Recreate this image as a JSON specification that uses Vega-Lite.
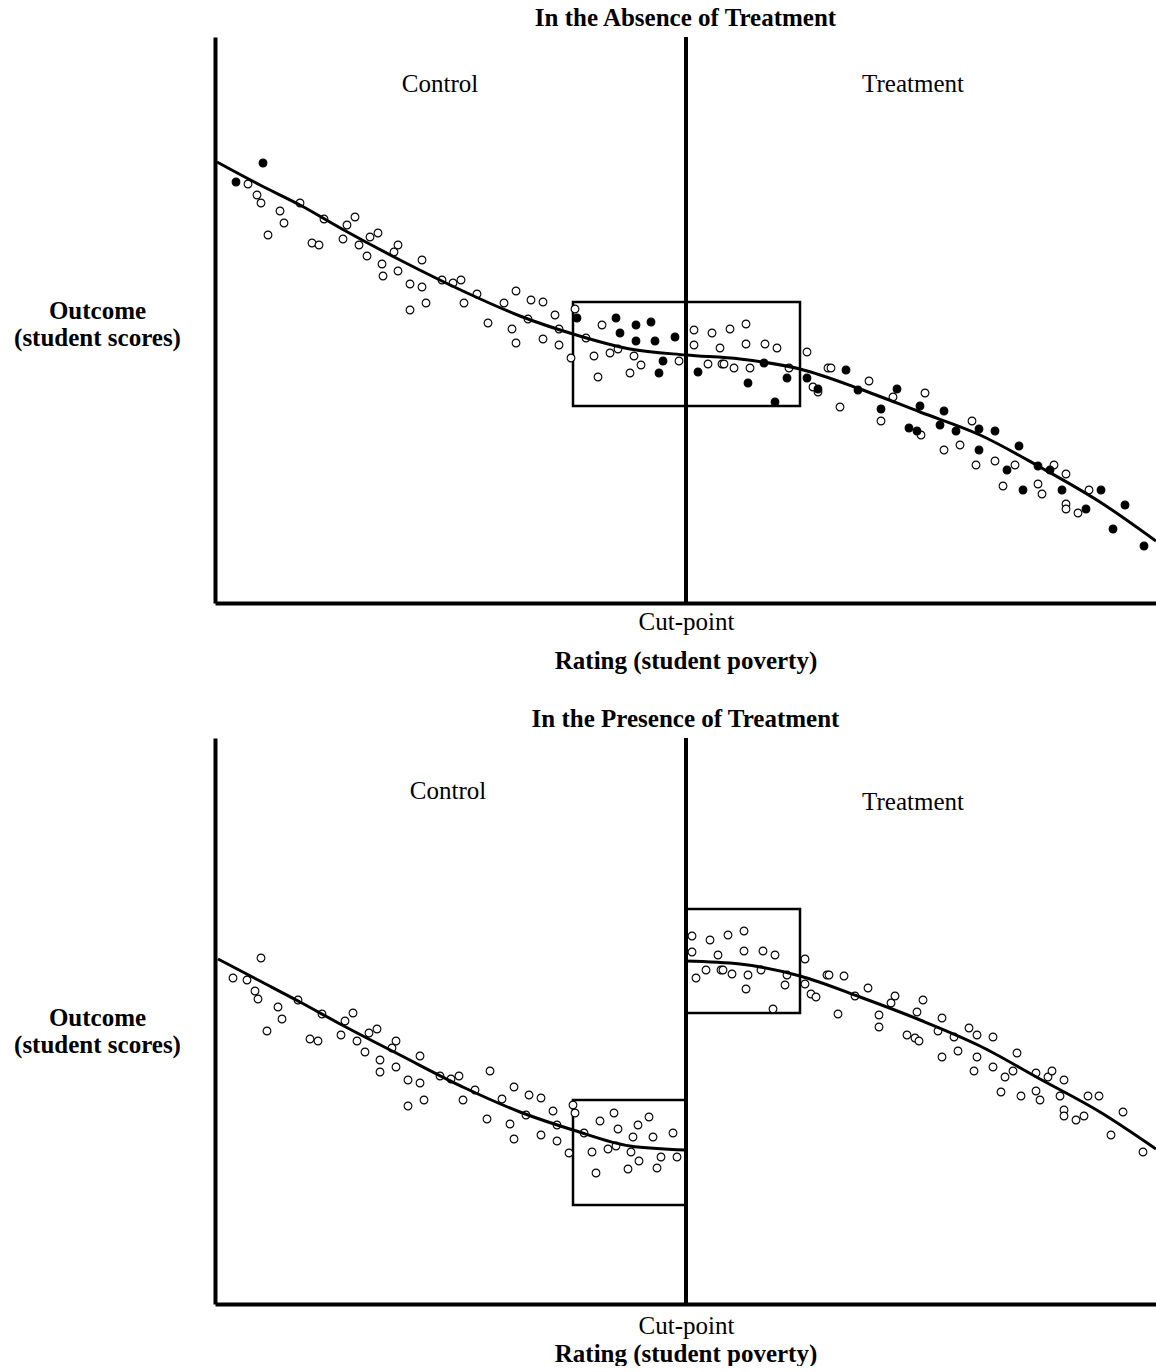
{
"$schema":"https://vega.github.io/schema/vega-lite/v6.json",
"background":"white",
"padding":{"left":13,"top":6,"right":0,"bottom":0},
"spacing":34,
"config":{"view":{"stroke":null},"font":"Liberation Serif",
"title":{"font":"Liberation Serif","fontSize":25,"fontWeight":"bold","color":"black","anchor":"middle","offset":4},
"axisX":{"domainWidth":4,"domainColor":"black","ticks":false,"grid":false,"labelFont":"Liberation Serif","labelFontSize":25,"labelColor":"black","labelPadding":6,"labelFlush":false,"titleFont":"Liberation Serif","titleFontSize":25,"titleFontWeight":"bold","titleColor":"black","titlePadding":14},
"axisY":{"domainWidth":4,"domainColor":"black","ticks":false,"labels":false,"grid":false,"titleAngle":0,"titleAlign":"center","titleBaseline":"middle","titleX":-118,"titleFont":"Liberation Serif","titleFontSize":25,"titleFontWeight":"bold","titleColor":"black","titleLineHeight":27}},
"datasets":{
"cut":[{"rating":47.1}],
"top_box":[{"x1":35.8,"x2":58.5,"y1":30.1,"y2":19.7}],
"bot_box":[{"x1":35.8,"x2":47.1,"y1":20.4,"y2":9.9},{"x1":47.1,"x2":58.5,"y1":39.5,"y2":29.1}],
"top_lab":[{"rating":22.5,"score":51.9,"label":"Control"},{"rating":69.8,"score":51.9,"label":"Treatment"}],
"bot_lab":[{"rating":23.3,"score":51.3,"label":"Control"},{"rating":69.8,"score":50.2,"label":"Treatment"}],
"top_curve":[{"rating":0.2,"score":44.1},{"rating":4.5,"score":41.8},{"rating":8.5,"score":39.8},{"rating":12.7,"score":37.4},{"rating":18.5,"score":34.3},{"rating":25,"score":31.1},{"rating":30.5,"score":28.7},{"rating":35.8,"score":26.9},{"rating":41.5,"score":25.4},{"rating":47.1,"score":24.8},{"rating":52.5,"score":24.4},{"rating":58.5,"score":23.4},{"rating":64.5,"score":21.4},{"rating":70.5,"score":19.1},{"rating":76.5,"score":16.8},{"rating":82.5,"score":13.6},{"rating":88.5,"score":10.1},{"rating":94.1,"score":6.2}],
"bot_curve":[{"seg":"c","rating":0.3,"score":34.5},{"seg":"c","rating":4.5,"score":32.3},{"seg":"c","rating":8.5,"score":30.2},{"seg":"c","rating":12.7,"score":27.9},{"seg":"c","rating":18.5,"score":24.9},{"seg":"c","rating":25,"score":21.6},{"seg":"c","rating":30.5,"score":19.2},{"seg":"c","rating":35.8,"score":17.4},{"seg":"c","rating":41.5,"score":15.8},{"seg":"c","rating":47.1,"score":15.4},
{"seg":"t","rating":47.1,"score":34.3},{"seg":"t","rating":52.5,"score":34.0},{"seg":"t","rating":58.5,"score":32.8},{"seg":"t","rating":64.5,"score":30.7},{"seg":"t","rating":70.5,"score":28.4},{"seg":"t","rating":76.5,"score":25.8},{"seg":"t","rating":82.5,"score":22.5},{"seg":"t","rating":88.5,"score":19.2},{"seg":"t","rating":94.1,"score":15.5}],
"top_pts":[
{"rating":3.3,"score":41.9,"kind":"open"},{"rating":4.2,"score":40.8,"kind":"open"},{"rating":4.6,"score":40.0,"kind":"open"},{"rating":5.3,"score":36.8,"kind":"open"},{"rating":6.5,"score":39.2,"kind":"open"},{"rating":6.9,"score":38.0,"kind":"open"},{"rating":8.5,"score":40.0,"kind":"open"},{"rating":9.7,"score":36.0,"kind":"open"},{"rating":10.4,"score":35.8,"kind":"open"},{"rating":10.9,"score":38.4,"kind":"open"},{"rating":12.8,"score":36.4,"kind":"open"},{"rating":13.2,"score":37.8,"kind":"open"},{"rating":14.0,"score":38.6,"kind":"open"},{"rating":14.4,"score":35.8,"kind":"open"},{"rating":15.2,"score":34.7,"kind":"open"},{"rating":15.5,"score":36.6,"kind":"open"},{"rating":16.3,"score":37.0,"kind":"open"},{"rating":16.7,"score":33.9,"kind":"open"},{"rating":16.8,"score":32.7,"kind":"open"},{"rating":17.9,"score":35.1,"kind":"open"},{"rating":18.3,"score":35.8,"kind":"open"},{"rating":18.3,"score":33.2,"kind":"open"},{"rating":19.5,"score":31.9,"kind":"open"},{"rating":19.5,"score":29.3,"kind":"open"},{"rating":20.7,"score":34.3,"kind":"open"},{"rating":20.7,"score":31.6,"kind":"open"},{"rating":21.1,"score":30.0,"kind":"open"},{"rating":22.7,"score":32.3,"kind":"open"},{"rating":23.8,"score":32.0,"kind":"open"},{"rating":24.6,"score":32.3,"kind":"open"},{"rating":24.9,"score":30.0,"kind":"open"},
{"rating":26.2,"score":30.9,"kind":"open"},{"rating":27.3,"score":28.0,"kind":"open"},{"rating":28.9,"score":30.0,"kind":"open"},{"rating":29.7,"score":27.4,"kind":"open"},{"rating":30.1,"score":31.2,"kind":"open"},{"rating":30.1,"score":26.0,"kind":"open"},{"rating":31.3,"score":28.4,"kind":"open"},{"rating":31.6,"score":30.3,"kind":"open"},{"rating":32.8,"score":30.1,"kind":"open"},{"rating":32.8,"score":26.4,"kind":"open"},{"rating":34.0,"score":28.8,"kind":"open"},{"rating":34.4,"score":27.4,"kind":"open"},{"rating":34.4,"score":25.8,"kind":"open"},{"rating":35.6,"score":24.5,"kind":"open"},{"rating":36.0,"score":29.4,"kind":"open"},{"rating":37.1,"score":26.5,"kind":"open"},{"rating":37.9,"score":24.7,"kind":"open"},{"rating":38.3,"score":22.6,"kind":"open"},{"rating":38.7,"score":27.8,"kind":"open"},{"rating":39.5,"score":25.0,"kind":"open"},{"rating":40.3,"score":25.4,"kind":"open"},{"rating":41.5,"score":23.0,"kind":"open"},{"rating":41.9,"score":24.7,"kind":"open"},{"rating":42.6,"score":23.8,"kind":"open"},{"rating":46.4,"score":24.2,"kind":"open"},{"rating":47.9,"score":27.3,"kind":"open"},{"rating":47.9,"score":25.8,"kind":"open"},
{"rating":49.3,"score":23.9,"kind":"open"},{"rating":49.7,"score":27.0,"kind":"open"},{"rating":50.5,"score":25.5,"kind":"open"},{"rating":50.7,"score":23.9,"kind":"open"},{"rating":50.9,"score":23.9,"kind":"open"},{"rating":51.5,"score":27.4,"kind":"open"},{"rating":51.9,"score":23.5,"kind":"open"},{"rating":53.1,"score":27.9,"kind":"open"},{"rating":53.1,"score":25.9,"kind":"open"},{"rating":53.5,"score":23.5,"kind":"open"},{"rating":55.0,"score":25.9,"kind":"open"},{"rating":56.2,"score":25.5,"kind":"open"},{"rating":57.4,"score":23.5,"kind":"open"},{"rating":59.2,"score":25.1,"kind":"open"},{"rating":59.8,"score":21.6,"kind":"open"},{"rating":60.3,"score":21.1,"kind":"open"},{"rating":61.3,"score":23.5,"kind":"open"},{"rating":61.6,"score":23.5,"kind":"open"},{"rating":62.5,"score":19.6,"kind":"open"},{"rating":65.4,"score":22.2,"kind":"open"},{"rating":66.6,"score":18.2,"kind":"open"},{"rating":67.8,"score":20.6,"kind":"open"},
{"rating":71.0,"score":21.0,"kind":"open"},{"rating":70.6,"score":16.8,"kind":"open"},{"rating":72.9,"score":15.3,"kind":"open"},{"rating":74.5,"score":15.8,"kind":"open"},{"rating":75.7,"score":18.2,"kind":"open"},{"rating":76.1,"score":13.8,"kind":"open"},{"rating":78.0,"score":14.2,"kind":"open"},{"rating":78.8,"score":11.7,"kind":"open"},{"rating":80.0,"score":13.8,"kind":"open"},{"rating":82.3,"score":11.9,"kind":"open"},{"rating":82.7,"score":10.9,"kind":"open"},{"rating":83.9,"score":13.8,"kind":"open"},{"rating":85.1,"score":12.9,"kind":"open"},{"rating":85.1,"score":9.9,"kind":"open"},{"rating":85.1,"score":9.4,"kind":"open"},{"rating":86.3,"score":9.0,"kind":"open"},{"rating":87.4,"score":11.3,"kind":"open"},
{"rating":2.1,"score":42.1,"kind":"filled"},{"rating":4.8,"score":44.0,"kind":"filled"},{"rating":36.2,"score":28.5,"kind":"filled"},{"rating":40.1,"score":28.5,"kind":"filled"},{"rating":40.5,"score":27.0,"kind":"filled"},{"rating":42.1,"score":27.8,"kind":"filled"},{"rating":42.1,"score":26.2,"kind":"filled"},{"rating":43.6,"score":28.1,"kind":"filled"},{"rating":44.0,"score":26.2,"kind":"filled"},{"rating":46.0,"score":26.6,"kind":"filled"},{"rating":44.8,"score":24.2,"kind":"filled"},{"rating":44.4,"score":23.0,"kind":"filled"},{"rating":48.3,"score":23.1,"kind":"filled"},{"rating":53.3,"score":22.0,"kind":"filled"},{"rating":54.9,"score":24.0,"kind":"filled"},{"rating":56.0,"score":20.1,"kind":"filled"},{"rating":57.2,"score":22.5,"kind":"filled"},{"rating":59.2,"score":22.5,"kind":"filled"},{"rating":60.3,"score":21.4,"kind":"filled"},{"rating":63.1,"score":23.3,"kind":"filled"},{"rating":64.3,"score":21.3,"kind":"filled"},{"rating":66.6,"score":19.4,"kind":"filled"},{"rating":68.2,"score":21.4,"kind":"filled"},{"rating":69.4,"score":17.5,"kind":"filled"},{"rating":70.2,"score":17.2,"kind":"filled"},{"rating":70.5,"score":19.7,"kind":"filled"},{"rating":72.9,"score":19.2,"kind":"filled"},{"rating":72.5,"score":17.8,"kind":"filled"},{"rating":74.1,"score":17.2,"kind":"filled"},{"rating":76.4,"score":17.4,"kind":"filled"},{"rating":76.4,"score":15.3,"kind":"filled"},{"rating":78.0,"score":17.2,"kind":"filled"},{"rating":80.4,"score":15.7,"kind":"filled"},{"rating":79.2,"score":13.3,"kind":"filled"},{"rating":80.8,"score":11.3,"kind":"filled"},{"rating":82.3,"score":13.7,"kind":"filled"},{"rating":83.5,"score":13.3,"kind":"filled"},{"rating":84.7,"score":11.3,"kind":"filled"},{"rating":87.1,"score":9.4,"kind":"filled"},{"rating":88.6,"score":11.3,"kind":"filled"},{"rating":91.0,"score":9.8,"kind":"filled"},{"rating":89.8,"score":7.4,"kind":"filled"},{"rating":92.9,"score":5.7,"kind":"filled"}],
"bot_pts":[
{"rating":4.6,"score":34.6},{"rating":1.8,"score":32.6},{"rating":3.2,"score":32.4},{"rating":4.0,"score":31.3},{"rating":4.3,"score":30.5},{"rating":5.2,"score":27.3},{"rating":6.3,"score":29.7},{"rating":6.7,"score":28.5},{"rating":8.3,"score":30.4},{"rating":9.5,"score":26.5},{"rating":10.3,"score":26.3},{"rating":10.7,"score":29.0},{"rating":12.6,"score":26.9},{"rating":13.0,"score":28.3},{"rating":13.8,"score":29.1},{"rating":14.2,"score":26.3},{"rating":15.0,"score":25.2},{"rating":15.4,"score":27.1},{"rating":16.2,"score":27.5},{"rating":16.5,"score":24.4},{"rating":16.5,"score":23.2},{"rating":17.7,"score":25.6},{"rating":18.1,"score":26.3},{"rating":18.1,"score":23.7},{"rating":19.3,"score":22.4},{"rating":19.3,"score":19.8},{"rating":20.5,"score":24.8},{"rating":20.5,"score":22.1},{"rating":20.9,"score":20.4},{"rating":22.5,"score":22.8},{"rating":23.6,"score":22.5},{"rating":24.4,"score":22.8},{"rating":24.8,"score":20.4},
{"rating":26.0,"score":21.4},{"rating":27.5,"score":23.3},{"rating":27.2,"score":18.5},{"rating":28.7,"score":20.5},{"rating":29.5,"score":18.0},{"rating":29.9,"score":21.7},{"rating":29.9,"score":16.5},{"rating":31.1,"score":18.9},{"rating":31.4,"score":20.9},{"rating":32.6,"score":20.6},{"rating":32.6,"score":16.9},{"rating":33.8,"score":19.3},{"rating":34.2,"score":17.9},{"rating":34.2,"score":16.3},{"rating":35.4,"score":15.1},{"rating":35.8,"score":19.9},{"rating":36.0,"score":19.1},{"rating":36.9,"score":17.1},{"rating":37.7,"score":15.2},{"rating":38.1,"score":13.1},{"rating":38.5,"score":18.3},{"rating":39.3,"score":15.5},{"rating":39.9,"score":19.1},{"rating":40.1,"score":15.8},{"rating":40.3,"score":17.5},{"rating":41.3,"score":13.5},{"rating":41.6,"score":15.2},{"rating":41.8,"score":16.7},{"rating":42.3,"score":17.9},{"rating":42.4,"score":14.3},{"rating":43.4,"score":18.7},{"rating":43.8,"score":16.7},{"rating":44.2,"score":13.6},{"rating":44.6,"score":14.7},{"rating":45.8,"score":17.1},{"rating":46.2,"score":14.7},
{"rating":47.7,"score":36.8},{"rating":47.7,"score":35.2},{"rating":48.1,"score":32.6},{"rating":49.1,"score":33.4},{"rating":49.5,"score":36.4},{"rating":50.3,"score":34.9},{"rating":50.6,"score":33.4},{"rating":50.8,"score":33.4},{"rating":51.3,"score":36.9},{"rating":51.7,"score":33.0},{"rating":52.9,"score":37.3},{"rating":52.9,"score":35.3},{"rating":53.1,"score":31.5},{"rating":53.3,"score":32.9},{"rating":54.6,"score":33.4},{"rating":54.8,"score":35.3},{"rating":55.8,"score":29.5},{"rating":56.0,"score":34.9},{"rating":57.0,"score":31.9},{"rating":57.2,"score":32.9},{"rating":59.0,"score":34.5},{"rating":59.0,"score":32.0},{"rating":59.6,"score":31.0},{"rating":60.1,"score":30.7},{"rating":61.2,"score":32.9},{"rating":61.4,"score":32.9},{"rating":62.3,"score":29.0},{"rating":62.9,"score":32.8},{"rating":64.0,"score":30.8},{"rating":65.3,"score":31.6},{"rating":66.4,"score":28.9},{"rating":66.4,"score":27.7},{"rating":67.6,"score":30.1},{"rating":68.0,"score":30.8},{"rating":69.2,"score":26.9},{"rating":70.0,"score":26.6},{"rating":70.2,"score":29.2},
{"rating":70.4,"score":26.3},{"rating":70.8,"score":30.4},{"rating":72.3,"score":27.3},{"rating":72.7,"score":28.6},{"rating":72.7,"score":24.7},{"rating":73.9,"score":26.7},{"rating":74.3,"score":25.3},{"rating":75.4,"score":27.6},{"rating":75.9,"score":23.3},{"rating":76.2,"score":26.9},{"rating":76.2,"score":24.7},{"rating":77.8,"score":26.7},{"rating":77.8,"score":23.7},{"rating":78.6,"score":21.2},{"rating":79.0,"score":22.7},{"rating":79.8,"score":23.3},{"rating":80.2,"score":25.1},{"rating":80.6,"score":20.8},{"rating":82.1,"score":23.1},{"rating":82.1,"score":21.3},{"rating":82.5,"score":20.4},{"rating":83.3,"score":22.7},{"rating":83.7,"score":23.3},{"rating":84.5,"score":20.8},{"rating":84.9,"score":22.4},{"rating":84.9,"score":19.4},{"rating":84.9,"score":18.8},{"rating":86.1,"score":18.4},{"rating":86.9,"score":18.8},{"rating":87.3,"score":20.8},{"rating":88.4,"score":20.8},{"rating":90.8,"score":19.2},{"rating":89.6,"score":16.9},{"rating":92.8,"score":15.2}]
},
"vconcat":[
{"width":941,"height":566,"title":{"text":"In the Absence of Treatment"},
"layer":[
{"data":{"name":"cut"},"mark":{"type":"rule","strokeWidth":4,"color":"black"},"encoding":{"x":{"field":"rating","type":"quantitative","scale":{"domain":[0,94.1],"nice":false,"zero":false}}}},
{"data":{"name":"top_box"},"mark":{"type":"rect","fillOpacity":0,"stroke":"black","strokeWidth":2.5},"encoding":{"x":{"field":"x1","type":"quantitative","scale":{"domain":[0,94.1],"nice":false,"zero":false}},"x2":{"field":"x2"},"y":{"field":"y1","type":"quantitative","scale":{"domain":[0,56.6],"nice":false,"zero":false}},"y2":{"field":"y2"}}},
{"data":{"name":"top_pts"},"mark":{"type":"point","shape":"circle","size":60,"stroke":"black","strokeWidth":1.1,"opacity":1,"filled":true},"encoding":{
"x":{"field":"rating","type":"quantitative","scale":{"domain":[0,94.1],"nice":false,"zero":false},"axis":{"title":"Rating (student poverty)","values":[47.1],"labelExpr":"'Cut-point'"}},
"y":{"field":"score","type":"quantitative","scale":{"domain":[0,56.6],"nice":false,"zero":false},"axis":{"title":["Outcome","(student scores)"],"titleY":273}},
"fill":{"field":"kind","type":"nominal","scale":{"domain":["open","filled"],"range":["white","black"]},"legend":null}}},
{"data":{"name":"top_curve"},"mark":{"type":"line","strokeWidth":3,"color":"black","interpolate":"monotone"},"encoding":{"x":{"field":"rating","type":"quantitative","scale":{"domain":[0,94.1],"nice":false,"zero":false}},"y":{"field":"score","type":"quantitative","scale":{"domain":[0,56.6],"nice":false,"zero":false}}}},
{"data":{"name":"top_lab"},"mark":{"type":"text","font":"Liberation Serif","fontSize":25,"color":"black","align":"center","baseline":"middle"},"encoding":{"x":{"field":"rating","type":"quantitative","scale":{"domain":[0,94.1],"nice":false,"zero":false}},"y":{"field":"score","type":"quantitative","scale":{"domain":[0,56.6],"nice":false,"zero":false}},"text":{"field":"label"}}}
]},
{"width":941,"height":566,"title":{"text":"In the Presence of Treatment"},
"layer":[
{"data":{"name":"cut"},"mark":{"type":"rule","strokeWidth":4,"color":"black"},"encoding":{"x":{"field":"rating","type":"quantitative","scale":{"domain":[0,94.1],"nice":false,"zero":false}}}},
{"data":{"name":"bot_box"},"mark":{"type":"rect","fillOpacity":0,"stroke":"black","strokeWidth":2.5},"encoding":{"x":{"field":"x1","type":"quantitative","scale":{"domain":[0,94.1],"nice":false,"zero":false}},"x2":{"field":"x2"},"y":{"field":"y1","type":"quantitative","scale":{"domain":[0,56.6],"nice":false,"zero":false}},"y2":{"field":"y2"}}},
{"data":{"name":"bot_pts"},"mark":{"type":"point","shape":"circle","size":60,"stroke":"black","strokeWidth":1.1,"opacity":1,"filled":true,"fill":"white"},"encoding":{
"x":{"field":"rating","type":"quantitative","scale":{"domain":[0,94.1],"nice":false,"zero":false},"axis":{"title":"Rating (student poverty)","values":[47.1],"labelExpr":"'Cut-point'","labelPadding":9,"titlePadding":3}},
"y":{"field":"score","type":"quantitative","scale":{"domain":[0,56.6],"nice":false,"zero":false},"axis":{"title":["Outcome","(student scores)"],"titleY":279}}}},
{"data":{"name":"bot_curve"},"mark":{"type":"line","strokeWidth":3,"color":"black","interpolate":"monotone"},"encoding":{"x":{"field":"rating","type":"quantitative","scale":{"domain":[0,94.1],"nice":false,"zero":false}},"y":{"field":"score","type":"quantitative","scale":{"domain":[0,56.6],"nice":false,"zero":false}},"detail":{"field":"seg"}}},
{"data":{"name":"bot_lab"},"mark":{"type":"text","font":"Liberation Serif","fontSize":25,"color":"black","align":"center","baseline":"middle"},"encoding":{"x":{"field":"rating","type":"quantitative","scale":{"domain":[0,94.1],"nice":false,"zero":false}},"y":{"field":"score","type":"quantitative","scale":{"domain":[0,56.6],"nice":false,"zero":false}},"text":{"field":"label"}}}
]}
]
}
